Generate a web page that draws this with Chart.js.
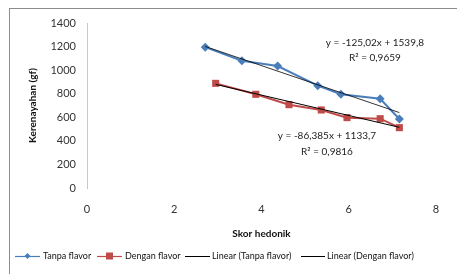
<!DOCTYPE html>
<html><head><meta charset="utf-8">
<script src="https://cdn.jsdelivr.net/npm/chart.js@4"></script>
<style>html,body{margin:0;padding:0;background:#fff;}#wrap{width:457px;height:274px;position:relative;}</style>
</head><body><div id="wrap"><canvas id="c" width="457" height="274"></canvas></div>
<script>
const tanpaX = [2.71, 3.55, 4.37, 5.29, 5.82, 6.72, 7.16];
const tanpaY = [1195, 1080, 1035, 868, 795, 757, 585];
const denganX = [2.95, 3.87, 4.63, 5.37, 5.96, 6.72, 7.16];
const denganY = [888, 795, 707, 662, 597, 588, 512];
const trendTanpaX = [2.71, 7.16];
const trendTanpaY = [1201, 640];
const trendDenganX = [2.95, 7.16];
const trendDenganY = [879, 515];
const seriesNames = ['Tanpa flavor', 'Dengan flavor', 'Linear (Tanpa flavor)', 'Linear (Dengan flavor)'];
const eqTanpa = ['y = -125,02x + 1539,8', 'R\u00b2 = 0,9659'];
const eqDengan = ['y = -86,385x + 1133,7', 'R\u00b2 = 0,9816'];
const xTicks = [0, 2, 4, 6, 8];
const yTicks = [0, 200, 400, 600, 800, 1000, 1200, 1400];

const pts = (xs, ys) => xs.map((x, i) => ({x: x, y: ys[i]}));
const FONT = 'Lato, "Liberation Sans", sans-serif';

const framePlugin = {
  id: 'frame',
  beforeDraw(chart) {
    const ctx = chart.ctx;
    ctx.save();
    ctx.strokeStyle = '#8c8c8c';
    ctx.lineWidth = 1;
    ctx.strokeRect(9.5, 8.5, 600, 400);
    ctx.restore();
  },
  afterDraw(chart) {
    const ctx = chart.ctx;
    const xs = chart.scales.x, ys = chart.scales.y;
    ctx.save();
    ctx.fillStyle = '#222';
    ctx.font = '10px ' + FONT;
    ctx.textAlign = 'center';
    ctx.textBaseline = 'middle';
    ctx.fillText(eqTanpa[0], xs.getPixelForValue(6.6), ys.getPixelForValue(1230));
    ctx.fillText(eqTanpa[1], xs.getPixelForValue(6.6), ys.getPixelForValue(1103));
    ctx.fillText(eqDengan[0], xs.getPixelForValue(5.5), ys.getPixelForValue(440));
    ctx.fillText(eqDengan[1], xs.getPixelForValue(5.5), ys.getPixelForValue(307));
    // legend
    const ly = 256;
    const items = [
      {x0: 15, x1: 40, tx: 43, color: '#4a7ebb', w: 1.2, pt: 'diamond'},
      {x0: 97, x1: 122, tx: 125, color: '#be4b48', w: 1.2, pt: 'square'},
      {x0: 185, x1: 210, tx: 212, color: '#000', w: 1, pt: null},
      {x0: 301, x1: 325, tx: 327, color: '#000', w: 1, pt: null}
    ];
    ctx.font = '9px ' + FONT;
    ctx.textAlign = 'left';
    items.forEach((it, i) => {
      ctx.strokeStyle = it.color; ctx.lineWidth = it.w;
      ctx.beginPath(); ctx.moveTo(it.x0, ly + 0.5); ctx.lineTo(it.x1, ly + 0.5); ctx.stroke();
      const cx = (it.x0 + it.x1) / 2;
      ctx.fillStyle = it.color;
      if (it.pt === 'diamond') {
        ctx.beginPath(); ctx.moveTo(cx, ly - 3); ctx.lineTo(cx + 3, ly); ctx.lineTo(cx, ly + 3); ctx.lineTo(cx - 3, ly); ctx.closePath(); ctx.fill();
      } else if (it.pt === 'square') {
        ctx.fillRect(cx - 3.5, ly - 3.5, 7, 7);
      }
      ctx.fillStyle = '#111';
      ctx.fillText(seriesNames[i], it.tx, ly + 0.5);
    });
    ctx.restore();
  }
};

new Chart(document.getElementById('c'), {
  type: 'scatter',
  data: {
    datasets: [
      {label: seriesNames[0], data: pts(tanpaX, tanpaY), showLine: true, borderColor: '#4a7ebb', backgroundColor: '#4a7ebb', borderWidth: 2, pointStyle: 'rectRot', pointRadius: 4.5, pointBorderWidth: 0, order: 2},
      {label: seriesNames[1], data: pts(denganX, denganY), showLine: true, borderColor: '#be4b48', backgroundColor: '#be4b48', borderWidth: 2, pointStyle: 'rect', pointRadius: 5, pointBorderWidth: 0, order: 2},
      {label: seriesNames[2], data: pts(trendTanpaX, trendTanpaY), showLine: true, borderColor: '#000', borderWidth: 0.8, pointRadius: 0, order: 1},
      {label: seriesNames[3], data: pts(trendDenganX, trendDenganY), showLine: true, borderColor: '#000', borderWidth: 1, pointRadius: 0, order: 1}
    ]
  },
  options: {
    responsive: false,
    animation: false,
    layout: {padding: {left: 20, right: 21, top: 23, bottom: 34}},
    plugins: {legend: {display: false}, tooltip: {enabled: false}},
    scales: {
      x: {
        type: 'linear', min: 0, max: 8,
        afterBuildTicks: s => { s.ticks = xTicks.map(v => ({value: v})); },
        afterFit: s => { s.height = 52; },
        grid: {display: false, drawTicks: false},
        border: {display: false},
        ticks: {padding: 15, color: '#333', font: {family: FONT, size: 11}, callback: v => String(v)},
        title: {display: true, text: 'Skor hedonik', color: '#111', font: {family: FONT, size: 10, weight: 'bold'}, padding: 0}
      },
      y: {
        min: 0, max: 1400,
        afterBuildTicks: s => { s.ticks = yTicks.map(v => ({value: v})); },
        afterFit: s => { s.width = 67; },
        grid: {display: false, drawTicks: false},
        border: {display: true, color: '#c8c8c8', width: 1},
        ticks: {padding: 11, color: '#333', font: {family: FONT, size: 11}, callback: v => String(v)},
        title: {display: true, text: 'Kerenayahan (gf)', color: '#111', font: {family: FONT, size: 10, weight: 'bold'}, padding: {top: 7, bottom: 0}}
      }
    }
  },
  plugins: [framePlugin]
});
</script></body></html>
